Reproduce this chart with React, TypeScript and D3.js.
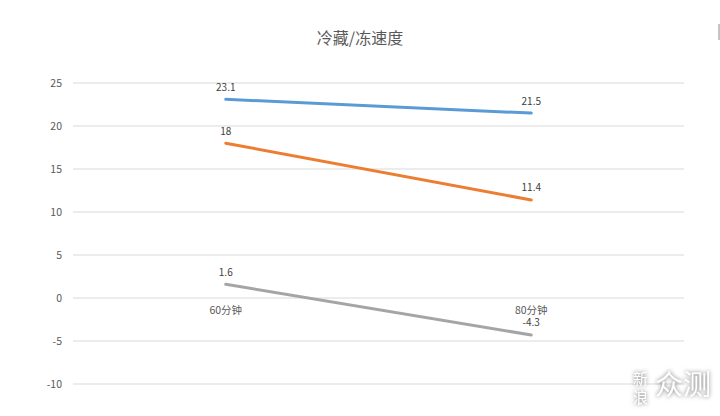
import React from "react";
import * as d3 from "d3";

const categories = ["60分钟", "80分钟"];
const seriesNames = ["冷藏", "冷冻", "变温"];
const seriesA = [23.1, 21.5];
const seriesB = [18, 11.4];
const seriesC = [1.6, -4.3];
const yTicks = [-10, -5, 0, 5, 10, 15, 20, 25];
const colors = ["#5B9BD5", "#ED7D31", "#A5A5A5"];

export default function App() {
  const W = 720, H = 416;
  const left = 73, right = 684;
  const x = d3.scaleBand().domain(categories).range([left, right]);
  const y = d3.scaleLinear().domain([-10, 25]).range([384, 83]);
  const series = [seriesA, seriesB, seriesC];
  const line = d3.line<number>()
    .x((_, i) => (x(categories[i]) as number) + x.bandwidth() / 2)
    .y((d) => y(d));
  const font = "'Microsoft YaHei', 'Noto Sans CJK SC', 'DejaVu Sans', sans-serif";
  return (
    <svg width={W} height={H} style={{ position: "absolute", left: 0, top: 0, background: "#fff" }} fontFamily={font}>
      <rect x={0} y={0} width={W} height={H} fill="#fff" />
      <text x={360} y={44} textAnchor="middle" fontSize={16} fill="#595959">冷藏/冻速度</text>
      {yTicks.map((t) => (
        <g key={t}>
          <line x1={left} x2={right} y1={y(t)} y2={y(t)} stroke="#d9d9d9" strokeWidth={1} />
          <text x={62} y={y(t) + 4} textAnchor="end" fontSize={10.5} fill="#595959">{t}</text>
        </g>
      ))}
      {categories.map((c) => (
        <text key={c} x={(x(c) as number) + x.bandwidth() / 2} y={313.5} textAnchor="middle" fontSize={10.5} fill="#595959">{c}</text>
      ))}
      {series.map((s, si) => (
        <g key={seriesNames[si]}>
          <path d={line(s) || ""} fill="none" stroke={colors[si]} strokeWidth={3} strokeLinecap="round" />
          {s.map((v, i) => (
            <text key={i} x={(x(categories[i]) as number) + x.bandwidth() / 2} y={y(v) - 8.5} textAnchor="middle" fontSize={10} fill="#404040">{v}</text>
          ))}
        </g>
      ))}
      <line x1={719} x2={719} y1={24} y2={40} stroke="#888" strokeWidth={1} />
      <g fontFamily={font} fill="#fff" style={{ filter: "drop-shadow(0px 0px 2px rgba(0,0,0,0.55))" }}>
        <text x={633} y={384} fontSize={15}>新</text>
        <text x={633} y={403} fontSize={15}>浪</text>
        <text x={655} y={395} fontSize={28}>众测</text>
      </g>
    </svg>
  );
}
